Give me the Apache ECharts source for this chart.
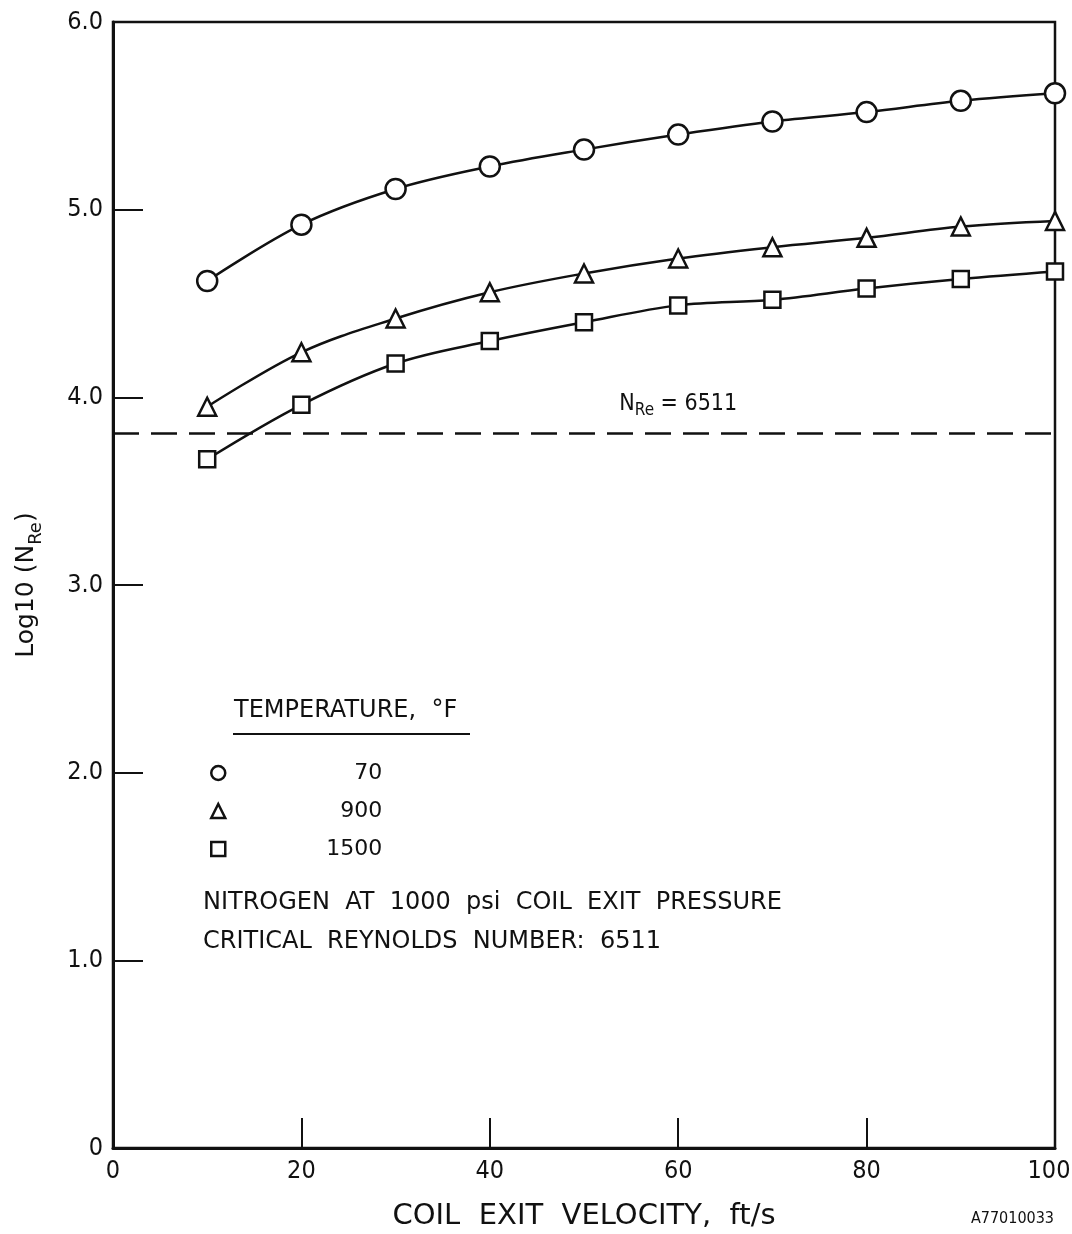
<!DOCTYPE html>
<html>
<head>
<meta charset="utf-8">
<script src="https://cdn.jsdelivr.net/npm/echarts@6/dist/echarts.min.js"></script>
<style>
html,body{margin:0;padding:0;background:#fff;}
#c{width:1072px;height:1234px;}
</style>
</head>
<body>
<div id="c"></div>
<script>
// ---- data ----
var velocities = [10, 20, 30, 40, 50, 60, 70, 80, 90, 100];
var temp70 = [4.62, 4.92, 5.11, 5.23, 5.32, 5.40, 5.47, 5.52, 5.58, 5.62];
var temp900 = [3.95, 4.24, 4.42, 4.56, 4.66, 4.74, 4.80, 4.85, 4.91, 4.94];
var temp1500 = [3.67, 3.96, 4.18, 4.30, 4.40, 4.49, 4.52, 4.58, 4.63, 4.67];
var seriesNames = ['70', '900', '1500'];
var seriesSymbols = ['circle', 'triangle', 'rect'];
var criticalRe = 6511;
var criticalLog = Math.log10(criticalRe);
var xTicks = [0, 20, 40, 60, 80, 100];
var yTicks = [0, 1, 2, 3, 4, 5, 6];

var FONT = '"DejaVu Sans", Arial, sans-serif';
var CFONT = '"DejaVu Sans Condensed", "DejaVu Sans", Arial, sans-serif';
var chart = echarts.init(document.getElementById('c'));

function pairs(vals) {
  return velocities.map(function (v, i) { return [v, vals[i]]; });
}

var allVals = [temp70, temp900, temp1500];
var symSizes = [20, 18, 16];

var series = allVals.map(function (vals, i) {
  var s = {
    name: seriesNames[i],
    type: 'line',
    data: pairs(vals),
    smooth: 0.35,
    symbol: seriesSymbols[i],
    symbolSize: symSizes[i],
    showAllSymbol: true,
    lineStyle: { color: '#111', width: 2.5 },
    itemStyle: { color: '#fff', borderColor: '#111', borderWidth: 2.5 },
    z: 3,
    animation: false
  };
  if (i === 0) {
    s.markLine = {
      silent: true,
      symbol: ['none', 'none'],
      label: { show: false },
      lineStyle: { color: '#111', width: 2.5, type: [26, 12] },
      data: [{ yAxis: criticalLog }],
      animation: false
    };
  }
  return s;
});

chart.setOption({
  backgroundColor: '#fff',
  animation: false,
  grid: { left: 113, right: 17, top: 22, bottom: 86, outerBoundsMode: 'none', containLabel: false,
    show: true, borderColor: '#111', borderWidth: 2.5 },
  xAxis: {
    type: 'value', min: 0, max: 100, interval: 20,
    axisLine: { show: true, onZero: false, lineStyle: { color: '#111', width: 3 } },
    axisTick: { show: true, inside: true, length: 30, lineStyle: { color: '#111', width: 2 } },
    splitLine: { show: false },
    axisLabel: { color: '#111', fontSize: 25, fontFamily: CFONT, margin: 11,
      rich: { m: { fontSize: 25, fontFamily: CFONT, color: '#111', padding: [0, 12, 0, 0] } },
      formatter: function (v) {
        if (xTicks.indexOf(v) < 0) return '';
        return v === 100 ? '{m|100}' : String(v);
      } },
    name: 'COIL  EXIT  VELOCITY,  ft/s',
    nameLocation: 'middle', nameGap: 54,
    nameTextStyle: { color: '#111', fontSize: 29, fontFamily: FONT }
  },
  yAxis: {
    type: 'value', min: 0, max: 6, interval: 1,
    axisLine: { show: true, onZero: false, lineStyle: { color: '#111', width: 3 } },
    axisTick: { show: true, inside: true, length: 30, lineStyle: { color: '#111', width: 2 } },
    splitLine: { show: false },
    axisLabel: { color: '#111', fontSize: 25, fontFamily: CFONT, margin: 10,
      formatter: function (v) { return yTicks.indexOf(v) >= 0 ? (v === 0 ? '0' : v.toFixed(1)) : ''; } },
    name: 'Log10 (N{s|Re})',
    nameLocation: 'middle', nameGap: 74, nameRotate: 90,
    nameTextStyle: {
      color: '#111', fontSize: 25, fontFamily: FONT,
      rich: { s: { fontSize: 18, fontFamily: FONT, color: '#111', verticalAlign: 'bottom', padding: [0, 0, -6, 0] } }
    }
  },
  legend: {
    orient: 'vertical', left: 205, top: 757, itemGap: 16,
    itemWidth: 14, itemHeight: 14,
    data: seriesNames.map(function (n, i) { return { name: n, icon: seriesSymbols[i] }; }),
    itemStyle: { color: '#fff', borderColor: '#111', borderWidth: 2.5 },
    textStyle: { color: '#111', fontSize: 22, fontFamily: FONT,
      rich: { r: { width: 152, align: 'right', fontSize: 22, fontFamily: FONT, color: '#111' } } },
    formatter: function (n) { return '{r|' + n + '}'; },
    selectedMode: false
  },
  series: series
});

var p = chart.convertToPixel({ gridIndex: 0 }, [65, criticalLog]);
chart.setOption({
  graphic: [
    { type: 'text', left: 234, top: 699, style: { text: 'TEMPERATURE,  °F', fill: '#111', fontSize: 24, fontFamily: FONT } },
    { type: 'line', shape: { x1: 233, y1: 734, x2: 470, y2: 734 }, style: { stroke: '#111', lineWidth: 2 } },
    { type: 'text', left: 203, top: 891, style: { text: 'NITROGEN  AT  1000  psi  COIL  EXIT  PRESSURE', fill: '#111', fontSize: 24, fontFamily: FONT } },
    { type: 'text', left: 203, top: 930, style: { text: 'CRITICAL  REYNOLDS  NUMBER:  6511', fill: '#111', fontSize: 24, fontFamily: FONT } },
    { type: 'text', x: p[0] - 106, y: p[1] - 44, style: {
      text: 'N{s|Re} = 6511', fill: '#111', fontSize: 23, fontFamily: CFONT,
      rich: { s: { fontSize: 17, fontFamily: CFONT, fill: '#111', padding: [14, 0, 0, 0] } } } },
    { type: 'text', right: 18, top: 1211, style: { text: 'A77010033', fill: '#111', fontSize: 16, fontFamily: CFONT } }
  ]
});
</script>
</body>
</html>
